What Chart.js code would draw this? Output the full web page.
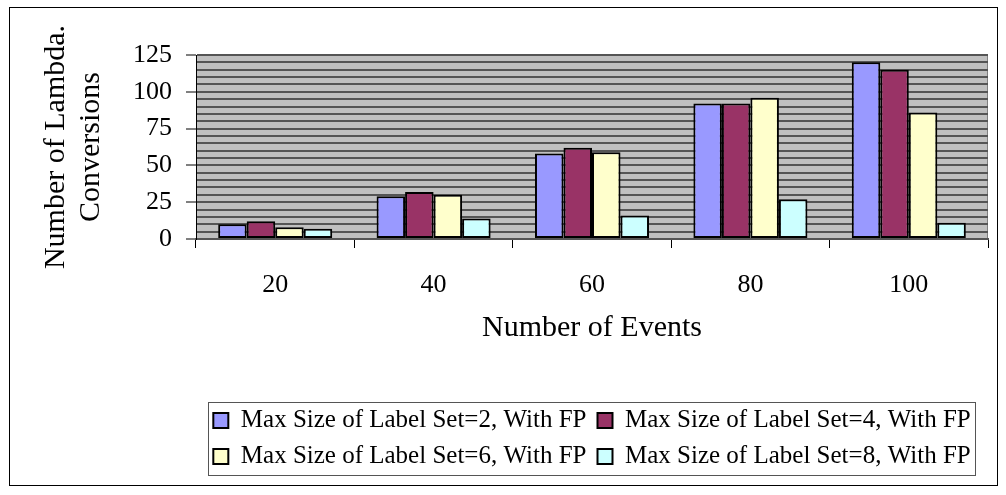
<!DOCTYPE html>
<html>
<head>
<meta charset="utf-8">
<script src="https://cdn.jsdelivr.net/npm/chart.js@4.4.1/dist/chart.umd.min.js"></script>
<style>
  html, body { margin: 0; padding: 0; background: #ffffff; }
  canvas { display: block; }
</style>
</head>
<body>
<canvas id="chart" width="1006" height="495"></canvas>
<script>
// Number of Lambda conversions per event count, by maximum label-set size
const categories = ['20', '40', '60', '80', '100'];
const labelSet2 = [10, 29, 58, 92, 120];
const labelSet4 = [12, 32, 62, 92, 115];
const labelSet6 = [8, 30, 59, 96, 86];
const labelSet8 = [7, 14, 16, 27, 11];
const seriesNames = [
  'Max Size of Label Set=2, With FP',
  'Max Size of Label Set=4, With FP',
  'Max Size of Label Set=6, With FP',
  'Max Size of Label Set=8, With FP'
];
const yMajorTicks = [0, 25, 50, 75, 100, 125];

const FONT = "'Liberation Serif', 'Times New Roman', serif";
const colors = ['#9999FF', '#993366', '#FFFFCC', '#CCFFFF'];

// Frame, plot background and legend outline
const framePlugin = {
  id: 'frame',
  beforeDraw(chart) {
    const { ctx, chartArea: a, width, height } = chart;
    ctx.save();
    ctx.fillStyle = '#ffffff';
    ctx.fillRect(0, 0, width, height);
    ctx.strokeStyle = '#000000';
    ctx.lineWidth = 1;
    ctx.strokeRect(9.5, 7.5, 988, 478);
    ctx.fillStyle = '#C0C0C0';
    ctx.fillRect(a.left, a.top, a.right - a.left, a.bottom - a.top);
    ctx.strokeStyle = '#808080';
    ctx.strokeRect(a.left + 0.5, a.top + 0.5, a.right - a.left - 1, a.bottom - a.top);
    ctx.restore();
  },
  afterDraw(chart) {
    const lg = chart.legend;
    if (!lg || !lg.legendHitBoxes || !lg.legendHitBoxes.length) return;
    const boxes = lg.legendHitBoxes;
    const l = Math.min(...boxes.map(b => b.left)) - 5;
    const r = Math.max(...boxes.map(b => b.left + b.width)) + 5;
    const t = Math.min(...boxes.map(b => b.top)) - 6;
    const btm = Math.max(...boxes.map(b => b.top + b.height)) + 6;
    const { ctx } = chart;
    ctx.save();
    ctx.strokeStyle = '#555555';
    ctx.lineWidth = 1;
    ctx.strokeRect(Math.round(l) + 0.5, Math.round(t) + 0.5, Math.round(r - l), Math.round(btm - t));
    ctx.restore();
  }
};

const datasets = [labelSet2, labelSet4, labelSet6, labelSet8].map((data, i) => ({
  label: seriesNames[i],
  data,
  backgroundColor: colors[i],
  borderColor: '#000000',
  borderWidth: 2,
  borderSkipped: false,
  categoryPercentage: 0.72,
  barPercentage: 1.0
}));

new Chart(document.getElementById('chart'), {
  type: 'bar',
  data: { labels: categories, datasets },
  plugins: [framePlugin],
  options: {
    responsive: false,
    animation: false,
    devicePixelRatio: 1,
    layout: { padding: { left: 12, top: 55, right: 18, bottom: 16 } },
    plugins: {
      tooltip: { enabled: false },
      legend: {
        position: 'bottom',
        fullSize: false,
        labels: {
          boxWidth: 15,
          boxHeight: 15,
          padding: 11,
          color: '#000000',
          font: { family: FONT, size: 25 }
        }
      }
    },
    scales: {
      x: {
        afterFit(s) { s.height = 158; },
        grid: {
          display: true,
          drawOnChartArea: false,
          drawTicks: true,
          tickLength: 9,
          color: '#000000',
          lineWidth: 1
        },
        border: { display: true, color: '#555555', width: 2 },
        ticks: {
          color: '#000000',
          padding: 22,
          font: { family: FONT, size: 26 }
        },
        title: {
          display: true,
          text: 'Number of Events',
          color: '#000000',
          font: { family: FONT, size: 30, lineHeight: 1.25 },
          padding: { top: 0, bottom: 50 }
        }
      },
      y: {
        min: 0,
        max: 125,
        afterFit(s) { s.width = 184; },
        afterBuildTicks(s) {
          const t = [];
          for (let v = 0; v <= 125; v += 5) t.push({ value: v });
          s.ticks = t;
        },
        grid: {
          color: '#555555',
          lineWidth: 2,
          drawTicks: true,
          tickLength: 10,
          tickWidth: 1,
          tickColor: ctx => yMajorTicks.includes(ctx.tick.value) ? '#000000' : 'rgba(0,0,0,0)'
        },
        border: { display: true, color: '#000000', width: 1 },
        ticks: {
          autoSkip: false,
          padding: 14,
          color: '#000000',
          font: { family: FONT, size: 26 },
          callback: v => yMajorTicks.includes(v) ? String(v) : ''
        },
        title: {
          display: true,
          text: ['Number of Lambda.', 'Conversions'],
          color: '#000000',
          font: { family: FONT, size: 30, lineHeight: 1.1667 },
          padding: { top: 27, bottom: 0 }
        }
      }
    }
  }
});
</script>
</body>
</html>
